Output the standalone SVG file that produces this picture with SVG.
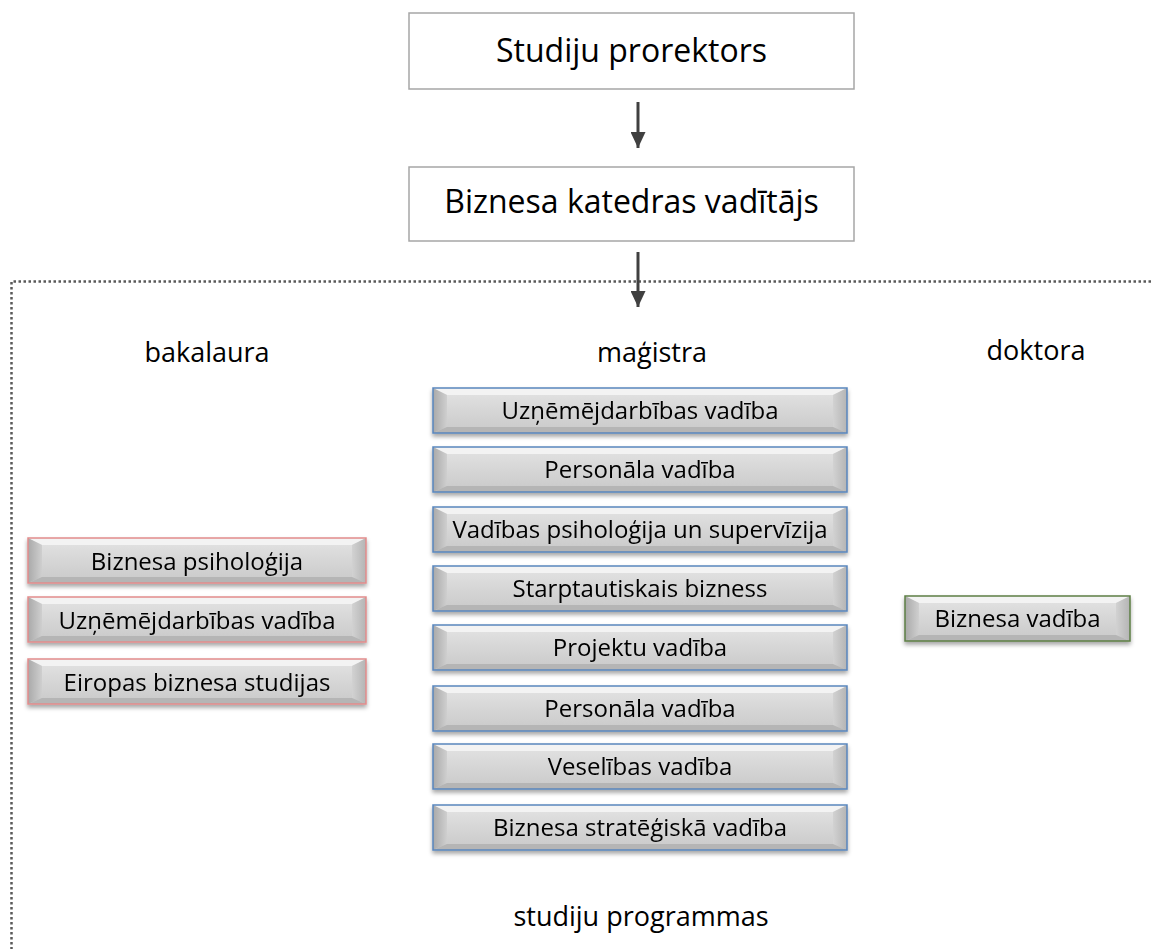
<svg xmlns="http://www.w3.org/2000/svg" xmlns:xlink="http://www.w3.org/1999/xlink" width="1151" height="949" viewBox="0 0 1151 949">
<style>
text{font-family:"Open Sans","Noto Sans","DejaVu Sans",sans-serif;fill:#000;text-anchor:middle}
.big{font-size:32px}
.lbl{font-size:27px}
.btn{font-size:24px}
.plain{fill:#fff;stroke:#a6a6a6;stroke-width:1.5}
.conn{stroke:#404040;stroke-width:3;fill:none}
.frame{stroke:#595959;stroke-width:2.5;fill:none;stroke-dasharray:2.5 2.5}
.bd-ba{fill:none;stroke:#e28c8c;stroke-width:1.5}
.bd-ma{fill:none;stroke:#5a86bd;stroke-width:1.5}
.bd-do{fill:none;stroke:#5d7f45;stroke-width:1.5}
</style>
<defs>
<linearGradient id="face" x1="0" y1="0" x2="0" y2="1">
<stop offset="0" stop-color="#e4e4e4"/><stop offset="0.5" stop-color="#d6d6d6"/><stop offset="1" stop-color="#c9c9c9"/>
</linearGradient>
<linearGradient id="lside" x1="0" y1="0" x2="1" y2="0">
<stop offset="0" stop-color="#a9a9a9"/><stop offset="1" stop-color="#cfcfcf"/>
</linearGradient>
<linearGradient id="rside" x1="0" y1="0" x2="1" y2="0">
<stop offset="0" stop-color="#d2d2d2"/><stop offset="1" stop-color="#b4b4b4"/>
</linearGradient>
<filter id="sh" x="-5%" y="-20%" width="110%" height="150%">
<feDropShadow dx="0" dy="3" stdDeviation="2" flood-color="#000" flood-opacity="0.35"/>
</filter>
<marker id="ah" viewBox="0 0 16 15" refX="16" refY="7.5" markerWidth="16" markerHeight="15" markerUnits="userSpaceOnUse" orient="auto">
<path d="M0,0 L16,7.5 L0,15 Z" fill="#404040"/>
</marker>
<g id="bev-ba">
<rect x="0" y="0" width="338" height="45" fill="url(#face)"/>
<polygon points="0,0 338,0 324,7 14,7" fill="#f3f3f3"/>
<polygon points="0,0 14,7 14,39 0,45" fill="url(#lside)"/>
<polygon points="338,0 324,7 324,39 338,45" fill="url(#rside)"/>
<polygon points="0,45 14,39 324,39 338,45" fill="#b5b5b5"/>
<rect x="0" y="0" width="338" height="45" class="bd-ba"/>
</g>
<g id="bev-ma">
<rect x="0" y="0" width="414" height="45" fill="url(#face)"/>
<polygon points="0,0 414,0 400,7 14,7" fill="#f3f3f3"/>
<polygon points="0,0 14,7 14,39 0,45" fill="url(#lside)"/>
<polygon points="414,0 400,7 400,39 414,45" fill="url(#rside)"/>
<polygon points="0,45 14,39 400,39 414,45" fill="#b5b5b5"/>
<rect x="0" y="0" width="414" height="45" class="bd-ma"/>
</g>
<g id="bev-do">
<rect x="0" y="0" width="225" height="45" fill="url(#face)"/>
<polygon points="0,0 225,0 211,7 14,7" fill="#f3f3f3"/>
<polygon points="0,0 14,7 14,39 0,45" fill="url(#lside)"/>
<polygon points="225,0 211,7 211,39 225,45" fill="url(#rside)"/>
<polygon points="0,45 14,39 211,39 225,45" fill="#b5b5b5"/>
<rect x="0" y="0" width="225" height="45" class="bd-do"/>
</g>
</defs>

<rect x="0" y="0" width="1151" height="949" fill="#fff"/>

<g id="frame">
<path class="frame" d="M1151,281.5 H11.5 V949"/>
</g>

<g id="n-prorektors">
<rect class="plain" x="409" y="13" width="445" height="76"/>
<text class="big" x="631.5" y="62">Studiju prorektors</text>
</g>
<g id="n-katedra">
<rect class="plain" x="409" y="167" width="445" height="74"/>
<text class="big" x="631.5" y="213">Biznesa katedras vadītājs</text>
</g>

<g id="connectors">
<line class="conn" x1="638" y1="102" x2="638" y2="148" marker-end="url(#ah)"/>
<line class="conn" x1="638" y1="252" x2="638" y2="307" marker-end="url(#ah)"/>
</g>

<g id="labels">
<text class="lbl" x="207" y="362">bakalaura</text>
<text class="lbl" x="652" y="362">maģistra</text>
<text class="lbl" x="1036" y="360">doktora</text>
<text class="lbl" x="641" y="926">studiju programmas</text>
</g>

<g id="bakalaura" filter="url(#sh)">
<g id="ba1"><use href="#bev-ba" x="28" y="538"/><text class="btn" x="197" y="570">Biznesa psiholoģija</text></g>
<g id="ba2"><use href="#bev-ba" x="28" y="597"/><text class="btn" x="197" y="629">Uzņēmējdarbības vadība</text></g>
<g id="ba3"><use href="#bev-ba" x="28" y="659"/><text class="btn" x="197" y="691">Eiropas biznesa studijas</text></g>
</g>

<g id="magistra" filter="url(#sh)">
<g id="ma1"><use href="#bev-ma" x="433" y="388"/><text class="btn" x="640" y="419">Uzņēmējdarbības vadība</text></g>
<g id="ma2"><use href="#bev-ma" x="433" y="447"/><text class="btn" x="640" y="478">Personāla vadība</text></g>
<g id="ma3"><use href="#bev-ma" x="433" y="507"/><text class="btn" x="640" y="538">Vadības psiholoģija un supervīzija</text></g>
<g id="ma4"><use href="#bev-ma" x="433" y="566"/><text class="btn" x="640" y="597">Starptautiskais bizness</text></g>
<g id="ma5"><use href="#bev-ma" x="433" y="625"/><text class="btn" x="640" y="656">Projektu vadība</text></g>
<g id="ma6"><use href="#bev-ma" x="433" y="686"/><text class="btn" x="640" y="717">Personāla vadība</text></g>
<g id="ma7"><use href="#bev-ma" x="433" y="744"/><text class="btn" x="640" y="775">Veselības vadība</text></g>
<g id="ma8"><use href="#bev-ma" x="433" y="805"/><text class="btn" x="640" y="836">Biznesa stratēģiskā vadība</text></g>
</g>

<g id="doktora" filter="url(#sh)">
<g id="do1"><use href="#bev-do" x="905" y="596"/><text class="btn" x="1017.5" y="627">Biznesa vadība</text></g>
</g>
</svg>
